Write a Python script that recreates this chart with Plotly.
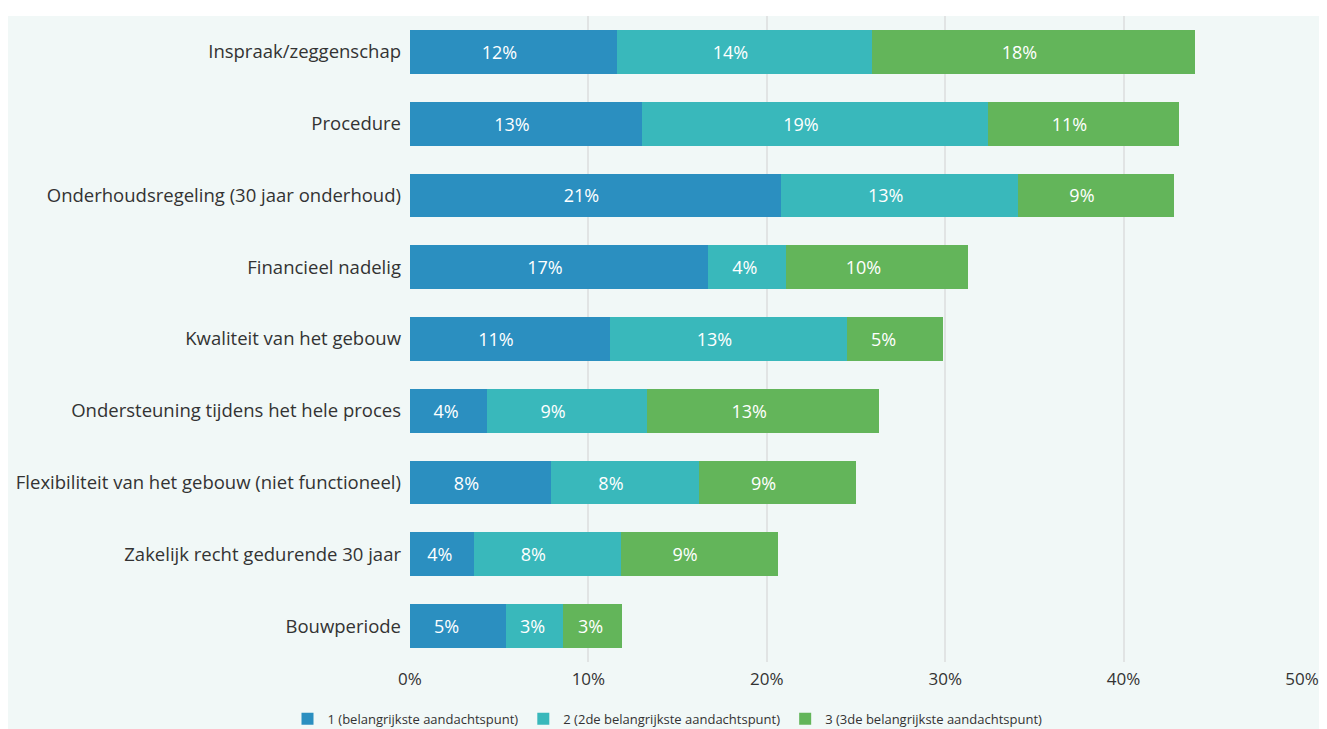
import plotly.graph_objects as go

categories = [
    "Inspraak/zeggenschap",
    "Procedure",
    "Onderhoudsregeling (30 jaar onderhoud)",
    "Financieel nadelig",
    "Kwaliteit van het gebouw",
    "Ondersteuning tijdens het hele proces",
    "Flexibiliteit van het gebouw (niet functioneel)",
    "Zakelijk recht gedurende 30 jaar",
    "Bouwperiode",
]
series_names = [
    "1 (belangrijkste aandachtspunt)",
    "2 (2de belangrijkste aandachtspunt)",
    "3 (3de belangrijkste aandachtspunt)",
]
values_1 = [11.6, 13.0, 20.8, 16.7, 11.2, 4.3, 7.9, 3.6, 5.4]
values_2 = [14.3, 19.4, 13.3, 4.4, 13.3, 9.0, 8.3, 8.2, 3.2]
values_3 = [18.1, 10.7, 8.7, 10.2, 5.4, 13.0, 8.8, 8.8, 3.3]
tick_vals = [0, 10, 20, 30, 40, 50]
tick_labels = ["0%", "10%", "20%", "30%", "40%", "50%"]

colors = ["#2b8fc0", "#39b8bb", "#63b55a"]
mint = "#f1f8f7"
font_family = "Open Sans, Noto Sans, sans-serif"
NBSP = "\u00a0"


def label(v):
    # labels in the reference sit slightly left of the segment centre
    n = 6 if v >= 7 else (5 if v >= 5 else 1)
    return f"{round(v)}%" + NBSP * n


fig = go.Figure()
for name, vals, col in zip(series_names, [values_1, values_2, values_3], colors):
    fig.add_trace(go.Bar(
        y=categories, x=vals, name=name, orientation="h",
        marker=dict(color=col, line=dict(width=0)),
        text=[label(v) for v in vals], textposition="inside",
        insidetextanchor="middle", textangle=0,
        insidetextfont=dict(color="white", size=18, family=font_family),
    ))

W, H = 1319, 721
L, R, T, B = 399, 25, 8, 67
fig.update_layout(
    barmode="stack",
    bargap=0.39,
    width=W, height=H,
    margin=dict(l=L, r=R, t=T, b=B),
    paper_bgcolor=mint,
    plot_bgcolor=mint,
    font=dict(family=font_family, color="#333333"),
    showlegend=True,
    legend=dict(
        orientation="h", xref="container", yref="container",
        x=0.5, xanchor="center", y=0.014, yanchor="middle",
        font=dict(size=13, color="#333333"),
        itemwidth=30, traceorder="normal",
        bgcolor="rgba(0,0,0,0)",
    ),
    xaxis=dict(
        range=[0, 50], tickmode="array", tickvals=tick_vals, ticktext=tick_labels,
        showgrid=True, gridcolor="#e1e4e4", gridwidth=2,
        zeroline=False, showline=False,
        tickfont=dict(size=17, color="#333333"),
        ticks="", ticklabelstandoff=5,
    ),
    yaxis=dict(
        autorange="reversed", showgrid=False, zeroline=False,
        tickfont=dict(size=18.5, color="#333333"),
        ticks="", ticklabelstandoff=8,
    ),
    shapes=[
        dict(type="rect", xref="paper", yref="paper",
             x0=-0.5, x1=1.1, y0=1.0, y1=1.0 + 8 / (H - T - B),
             fillcolor="white", line=dict(width=0), layer="below"),
    ],
)

fig.write_html(
    "out.html",
    post_script="document.documentElement.style.overflow='hidden';document.body.style.overflow='hidden';",
)
